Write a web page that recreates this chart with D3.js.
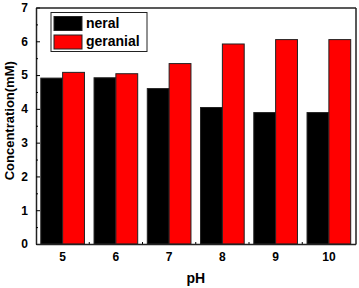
<!DOCTYPE html>
<html lang="en">
<head>
	<meta charset="utf-8">
	<title>Concentration vs pH</title>
	<script src="https://d3js.org/d3.v7.min.js"></script>
	<style>
		body { margin: 0; background: #fff; }
		text { font-family: "Liberation Sans", Arial, sans-serif; font-weight: bold; }
	</style>
</head>
<body>
	<div id="chart"></div>
	<script>
		// data
		let phValues = ["5", "6", "7", "8", "9", "10"];
		let neral = [4.91, 4.92, 4.60, 4.04, 3.89, 3.89];
		let geranial = [5.08, 5.04, 5.34, 5.92, 6.05, 6.05];
		let seriesNames = ["neral", "geranial"];
		let seriesColors = ["#000000", "#ff0000"];
		let yTicks = [0, 1, 2, 3, 4, 5, 6, 7];

		let width = 359;
		let height = 288;
		let margin = { top: 7.5, right: 3.5, bottom: 44, left: 36 };
		let xMax = width - margin.left - margin.right;
		let yMax = height - margin.top - margin.bottom;

		let svg = d3.select("#chart")
			.append("svg")
			.attr("width", width)
			.attr("height", height)
			.append("g")
			.attr("transform", "translate(" + margin.left + "," + margin.top + ")");

		let x = d3.scaleBand()
			.domain(phValues)
			.range([0, xMax])
			.paddingInner(0.18)
			.paddingOuter(0.09);
		let xSub = d3.scaleBand()
			.domain(seriesNames)
			.range([0, x.bandwidth()]);
		let y = d3.scaleLinear()
			.domain([0, 7])
			.range([yMax, 0]);

		let rows = phValues.map((p, i) => ({ ph: p, values: [neral[i], geranial[i]] }));

		// bars
		let groups = svg.selectAll(".grp")
			.data(rows)
			.enter()
			.append("g")
			.attr("transform", d => "translate(" + x(d.ph) + ",0)");
		groups.selectAll("rect")
			.data(d => d.values.map((v, j) => ({ name: seriesNames[j], v: v, c: seriesColors[j] })))
			.enter()
			.append("rect")
			.attr("x", d => xSub(d.name))
			.attr("y", d => y(d.v))
			.attr("width", xSub.bandwidth())
			.attr("height", d => yMax - y(d.v))
			.attr("fill", d => d.c)
			.attr("stroke", "#222")
			.attr("stroke-width", 1);

		// axes, ticks pointing inward
		let leftAxis = svg.append("g")
			.call(d3.axisLeft(y).tickValues(yTicks).tickFormat(d3.format("d"))
				.tickSizeInner(-4).tickSizeOuter(0).tickPadding(8));
		let minor = d3.range(0.5, 7, 1);
		svg.append("g")
			.call(d3.axisLeft(y).tickValues(minor).tickSizeInner(-2).tickSizeOuter(0).tickFormat(""))
			.select(".domain").remove();
		let rightAxis = svg.append("g")
			.attr("transform", "translate(" + xMax + ",0)")
			.call(d3.axisRight(y).tickValues(yTicks).tickSizeInner(0).tickSizeOuter(0).tickFormat(""));
		let bottomAxis = svg.append("g")
			.attr("transform", "translate(0," + yMax + ")")
			.call(d3.axisBottom(x).tickSizeInner(0).tickSizeOuter(0).tickPadding(8));
		// minor ticks between groups on the bottom
		let bounds = phValues.slice(1).map(p => x(p) - x.step() * x.paddingInner() / 2);
		svg.selectAll(".xminor")
			.data(bounds)
			.enter()
			.append("line")
			.attr("x1", d => d).attr("x2", d => d)
			.attr("y1", yMax).attr("y2", yMax - 2)
			.attr("stroke", "#000");
		let topAxis = svg.append("g")
			.call(d3.axisTop(x).tickSizeInner(0).tickSizeOuter(0).tickFormat(""));

		[leftAxis, rightAxis, bottomAxis, topAxis].forEach(a => {
			a.select(".domain").attr("stroke-width", 1.5).attr("stroke", "#222");
		});
		leftAxis.selectAll(".tick text").attr("font-size", 12).attr("fill", "#000");
		bottomAxis.selectAll(".tick text").attr("font-size", 12).attr("fill", "#000");

		// axis titles
		svg.append("text")
			.attr("transform", "rotate(-90)")
			.attr("x", -yMax / 2 + 5)
			.attr("y", -margin.left + 14)
			.attr("text-anchor", "middle")
			.attr("font-size", 13)
			.text("Concentration(mM)");
		svg.append("text")
			.attr("x", xMax / 2)
			.attr("y", yMax + 39)
			.attr("text-anchor", "middle")
			.attr("font-size", 14)
			.text("pH");

		// legend
		let legend = svg.append("g").attr("transform", "translate(15,5)");
		legend.append("rect")
			.attr("width", 96).attr("height", 39)
			.attr("fill", "#fff").attr("stroke", "#222").attr("stroke-width", 1);
		seriesNames.forEach((n, i) => {
			legend.append("rect")
				.attr("x", 3).attr("y", 4 + i * 18.5)
				.attr("width", 28).attr("height", 14)
				.attr("fill", seriesColors[i]).attr("stroke", "#222");
			legend.append("text")
				.attr("x", 35).attr("y", 15 + i * 18.5)
				.attr("font-size", 14)
				.text(n);
		});
	</script>
</body>
</html>
